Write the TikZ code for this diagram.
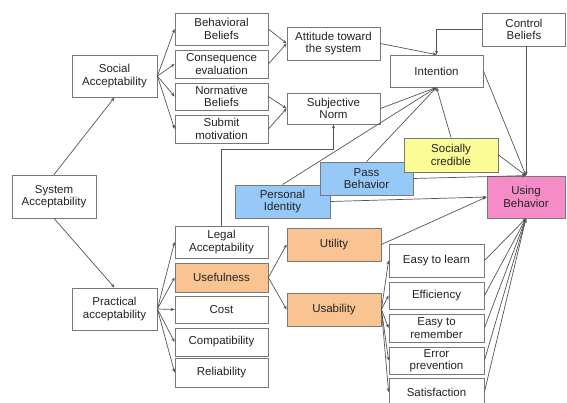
\documentclass[tikz,border=0pt]{standalone}
\usepackage{fontspec}
\setmainfont{Liberation Sans}
\usetikzlibrary{arrows.meta}
\definecolor{bordergray}{RGB}{120,120,120}
\definecolor{linegray}{RGB}{85,85,85}
\definecolor{txt}{RGB}{35,35,35}
\definecolor{orangefill}{RGB}{250,196,146}
\definecolor{bluefill}{RGB}{150,200,248}
\definecolor{yellowfill}{RGB}{252,252,150}
\definecolor{pinkfill}{RGB}{245,140,200}
\tikzset{
  box/.style={draw=bordergray, line width=0.8pt, fill=white, align=center, inner sep=1pt,
    font=\fontsize{11.5}{12.5}\selectfont, text=txt},
  arr/.style={draw=linegray, line width=0.7pt, -{Stealth[length=4pt,width=3.2pt]}},
}
\begin{document}
\begin{tikzpicture}[x=1pt,y=-1pt]
\useasboundingbox[fill=white] (0,0) rectangle (567,402);
% left column
\node[box, minimum width=84, minimum height=43] (sys) at (54,196.5) {System\\Acceptability};
\node[box, minimum width=85, minimum height=42] (soc) at (114.5,76) {Social\\Acceptability};
\node[box, minimum width=85, minimum height=42] (prac) at (114.5,309) {Practical\\acceptability};
% belief boxes
\node[box, minimum width=93, minimum height=32] (bb) at (221.5,29) {Behavioral\\Beliefs};
\node[box, minimum width=93, minimum height=28] (ce) at (221.5,64) {Consequence\\evaluation};
\node[box, minimum width=93, minimum height=27] (nb) at (221.5,96.5) {Normative\\Beliefs};
\node[box, minimum width=93, minimum height=28] (sm) at (221.5,129) {Submit\\motivation};
% practical boxes
\node[box, minimum width=93, minimum height=32] (legal) at (221.5,242) {Legal\\Acceptability};
\node[box, fill=orangefill, minimum width=93, minimum height=29] (usef) at (221.5,277.5) {Usefulness};
\node[box, minimum width=93, minimum height=27] (cost) at (221.5,309.5) {Cost};
\node[box, minimum width=93, minimum height=28] (compat) at (221.5,342) {Compatibility};
\node[box, minimum width=93, minimum height=29] (rel) at (221.5,372.5) {Reliability};
% middle
\node[box, minimum width=93, minimum height=33] (att) at (333.5,43.5) {Attitude toward\\the system};
\node[box, minimum width=93, minimum height=31] (subj) at (333.5,108.5) {Subjective\\Norm};
\node[box, minimum width=93, minimum height=32] (int) at (436.5,71) {Intention};
\node[box, minimum width=83, minimum height=33] (ctrl) at (524,29.5) {Control\\Beliefs};
\node[box, fill=orangefill, minimum width=94, minimum height=33] (util) at (334,244.5) {Utility};
\node[box, fill=orangefill, minimum width=94, minimum height=33] (usab) at (334,309.5) {Usability};
% usability boxes
\node[box, minimum width=95, minimum height=33] (etl) at (436.5,260.5) {Easy to learn};
\node[box, minimum width=95, minimum height=27] (eff) at (436.5,295.5) {Efficiency};
\node[box, minimum width=95, minimum height=28] (etr) at (436.5,328) {Easy to\\remember};
\node[box, minimum width=95, minimum height=27] (err) at (436.5,360.5) {Error\\prevention};
\node[box, minimum width=95, minimum height=28] (sat) at (436.5,392) {Satisfaction};
% connectors (drawn before coloured boxes overlap)
\draw[arr] (sys.north) -- (soc.south);
\draw[arr] (sys.south) -- (prac.north);
\foreach \t in {bb,ce,nb,sm} \draw[arr] (soc.east) -- (\t.west);
\foreach \t in {legal,usef,cost,compat,rel} \draw[arr] (prac.east) -- (\t.west);
\draw[arr] (bb.east) -- (att.west);
\draw[arr] (ce.east) -- (att.west);
\draw[arr] (nb.east) -- (subj.west);
\draw[arr] (sm.east) -- (subj.west);
\draw[arr] (att.east) -- (int.north);
\draw[arr] (ctrl.west) -| (int.north);
\draw[arr] (subj.east) -- (int.south);
\draw[arr] (legal.north) -- ++(0,-76) -| (subj.south);
\draw[arr] (usef.east) -- (util.west);
\draw[arr] (usef.east) -- (usab.west);
\foreach \t in {etl,eff,etr,err,sat} \draw[arr] (usab.east) -- (\t.west);
% coloured boxes
\node[box, fill=bluefill, minimum width=95, minimum height=33] (pers) at (282.5,201.5) {Personal\\Identity};
\node[box, fill=bluefill, minimum width=93, minimum height=33] (pass) at (366.5,178.5) {Pass\\Behavior};
\node[box, fill=yellowfill, minimum width=94, minimum height=34] (scred) at (451,155) {Socially\\credible};
\node[box, fill=pinkfill, minimum width=78, minimum height=42] (using) at (526,197) {Using\\Behavior};
\draw[arr] (pers.north) -- (int.south);
\draw[arr] (pass.north) -- (int.south);
\draw[arr] (scred.north) -- (int.south);
\draw[arr] (int.east) -- (using.north);
\draw[arr] (using.north |- ctrl.south) -- (using.north);
\draw[arr] (scred.east) -- (using.north);
\draw[arr] (pass.east) -- (using.north);
\draw[arr] (pers.east) -- (using.west);
\draw[arr] (util.east) -- (using.west);
\foreach \t in {etl,eff,etr,err,sat} \draw[arr] (\t.east) -- (using.south);
\end{tikzpicture}
\end{document}
